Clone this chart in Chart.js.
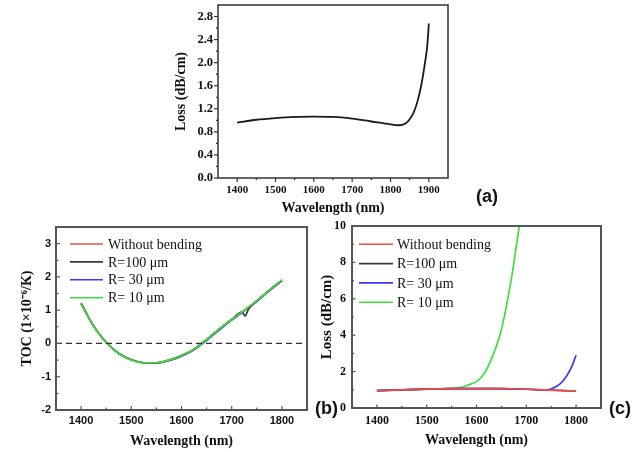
<!DOCTYPE html>
<html><head><meta charset="utf-8">
<script src="https://cdn.jsdelivr.net/npm/chart.js@4.4.0/dist/chart.umd.min.js"></script>
<style>
html,body{margin:0;padding:0;background:#fff;}
#wrap{position:relative;width:643px;height:452px;overflow:hidden;background:#fff;}
#wrap canvas{position:absolute;left:0;top:0;}
.pl{position:absolute;font:bold 18px 'Liberation Sans',Arial,sans-serif;line-height:18px;color:#111;white-space:nowrap;}
</style></head><body>
<div id="wrap">
<canvas id="ca" width="643" height="452"></canvas>
<canvas id="cb" width="643" height="452"></canvas>
<canvas id="cc" width="643" height="452"></canvas>
<div class="pl" style="left:476px;top:187px">(a)</div>
<div class="pl" style="left:315px;top:399px">(b)</div>
<div class="pl" style="left:609px;top:399px">(c)</div>
</div>
<script>
// ---------- data (a) ----------
const aWl   = [1400,1450,1500,1550,1600,1650,1700,1750,1800,1820,1840,1850,1860,1870,1880,1890,1896,1900];
const aLoss = [0.96,1.01,1.04,1.06,1.065,1.06,1.03,0.98,0.93,0.915,0.95,1.02,1.13,1.32,1.6,2.0,2.3,2.68];
const aXTicks = [1400,1500,1600,1700,1800,1900];
const aYTicks = [0.0,0.4,0.8,1.2,1.6,2.0,2.4,2.8];

// ---------- data (b) ----------
const bWl      = [1400,1425,1450,1475,1500,1525,1550,1575,1600,1625,1650,1675,1700,1720,1727,1733,1750,1775,1800];
const bNoBend  = [1.20,0.52,0.03,-0.30,-0.49,-0.58,-0.58,-0.50,-0.36,-0.17,0.12,0.43,0.72,0.94,1.02,1.09,1.28,1.60,1.90];
const bR100    = [1.20,0.52,0.03,-0.30,-0.49,-0.58,-0.58,-0.50,-0.36,-0.17,0.12,0.43,0.72,0.94,0.83,1.02,1.28,1.60,1.90];
const bR30     = [1.20,0.52,0.03,-0.30,-0.49,-0.58,-0.59,-0.52,-0.38,-0.19,0.09,0.40,0.70,0.92,1.00,1.07,1.26,1.58,1.89];
const bR10     = [1.19,0.51,0.02,-0.31,-0.50,-0.58,-0.58,-0.50,-0.36,-0.17,0.12,0.43,0.72,0.94,1.02,1.09,1.28,1.60,1.91];
const bXTicks = [1400,1500,1600,1700,1800];
const bYTicks = [-2,-1,0,1,2,3];

// ---------- data (c) ----------
const cWl     = [1400,1450,1500,1550,1600,1650,1700,1750,1800];
const cNoBend = [0.95,1.00,1.04,1.06,1.07,1.06,1.03,0.98,0.93];
const cR100   = [0.95,1.00,1.04,1.06,1.07,1.06,1.03,0.98,0.93];
const cR30Wl  = [1400,1450,1500,1550,1600,1650,1700,1740,1750,1760,1770,1780,1790,1800];
const cR30    = [0.95,1.00,1.04,1.06,1.07,1.06,1.03,1.00,1.05,1.18,1.38,1.72,2.2,2.9];
const cR10Wl  = [1400,1450,1500,1550,1560,1570,1580,1590,1600,1610,1620,1630,1640,1650,1660,1670,1680,1686];
const cR10    = [0.95,1.00,1.04,1.08,1.10,1.14,1.22,1.33,1.45,1.70,2.10,2.70,3.40,4.30,5.60,7.10,8.90,10.0];
const cXTicks = [1400,1500,1600,1700,1800];
const cYTicks = [0,2,4,6,8,10];

const seriesNames = ['Without bending','R=100 \u03bcm','R= 30 \u03bcm','R= 10 \u03bcm'];
const seriesColors = ['#f24c4c','#3a3a3a','#3b3bf5','#3ee03e'];

const SERIF = "'Liberation Serif','Times New Roman',serif";
const SANS = "'Liberation Sans',Arial,sans-serif";

function pts(xs, ys){ return xs.map((x,i)=>({x:x, y:ys[i]})); }

const decor = {
  id:'decor',
  afterDatasetsDraw(chart, args, o){
    const {ctx, chartArea:a, scales:{x, y}} = chart;
    ctx.save();
    if (o.zeroLine !== undefined){
      const py = y.getPixelForValue(o.zeroLine);
      ctx.strokeStyle = '#333'; ctx.lineWidth = 1.3; ctx.setLineDash([6,4]);
      ctx.beginPath(); ctx.moveTo(a.left, py); ctx.lineTo(a.right, py); ctx.stroke();
      ctx.setLineDash([]);
    }
    const d = o.inward ? -1 : 1;
    ctx.strokeStyle = o.frameColor; ctx.lineWidth = 1.2;
    const xt = (v, len) => { const px = x.getPixelForValue(v); ctx.beginPath(); ctx.moveTo(px, a.bottom); ctx.lineTo(px, a.bottom + d*len); ctx.stroke(); };
    const yt = (v, len) => { const py = y.getPixelForValue(v); ctx.beginPath(); ctx.moveTo(a.left, py); ctx.lineTo(a.left - d*len, py); ctx.stroke(); };
    o.xMajor.forEach(v => xt(v, o.majorLen));
    o.yMajor.forEach(v => yt(v, o.majorLen));
    const xs = o.xMajor[1]-o.xMajor[0], ys = o.yMajor[1]-o.yMajor[0];
    for (let v = o.xMajor[0]-xs/2; v <= x.max+1e-9; v += xs) if (v > x.min+1e-9 && v < x.max-1e-9) xt(v, o.minorLen);
    for (let v = o.yMajor[0]-ys/2; v <= y.max+1e-9; v += ys) if (v > y.min+1e-9 && v < y.max-1e-9) yt(v, o.minorLen);
    ctx.strokeStyle = o.frameColor; ctx.lineWidth = o.frameWidth;
    ctx.strokeRect(a.left, a.top, a.right-a.left, a.bottom-a.top);
    if (o.legend){
      const L = o.legend;
      ctx.font = '14px ' + SERIF; ctx.textBaseline = 'middle'; ctx.textAlign = 'left'; ctx.fillStyle = '#111';
      chart.data.datasets.forEach((ds, i) => {
        const yy = a.top + L.top + i*L.gap;
        ctx.strokeStyle = ds.borderColor; ctx.lineWidth = 1.6;
        ctx.beginPath(); ctx.moveTo(a.left + L.left, yy); ctx.lineTo(a.left + L.left + L.len, yy); ctx.stroke();
        ctx.fillText(ds.label, a.left + L.left + L.len + L.textGap, yy + 1);
      });
    }
    ctx.restore();
  }
};

function build(id, cfg){
  const lh = cfg.titleSize*1.2;
  const pl = cfg.yTitleX - lh/2;
  const pb = 452 - cfg.xTitleY - lh/2;
  new Chart(document.getElementById(id), {
    type:'line',
    data:{datasets: cfg.datasets},
    options:{
      responsive:false, animation:false, devicePixelRatio:1,
      layout:{padding:{left:pl, right:643-cfg.area.R, top:cfg.area.T, bottom:pb}},
      elements:{point:{radius:0}, line:{borderWidth:1.7, cubicInterpolationMode:'monotone'}},
      plugins:{legend:{display:false}, tooltip:{enabled:false}, decor:cfg.decor},
      scales:{
        x:{type:'linear', min:cfg.xMin, max:cfg.xMax,
           grid:{display:false, drawTicks:false}, border:{display:false},
           afterBuildTicks:s=>{ s.ticks = cfg.xTicks.map(v=>({value:v})); },
           afterFit:s=>{ s.height = 452 - pb - cfg.area.B; s.paddingLeft=0; s.paddingRight=0; },
           ticks:{autoSkip:false, maxRotation:0, padding:cfg.xPad, color:'#111', font:cfg.tickFont, callback:v=>String(v)},
           title:{display:true, text:'Wavelength (nm)', color:'#111', padding:0, font:{family:SERIF, size:cfg.titleSize, weight:'bold'}}},
        y:{type:'linear', min:cfg.yMin, max:cfg.yMax,
           grid:{display:false, drawTicks:false}, border:{display:false},
           afterBuildTicks:s=>{ s.ticks = cfg.yTicks.map(v=>({value:v})); },
           afterFit:s=>{ s.width = cfg.area.L - pl; s.paddingTop=0; s.paddingBottom=0; },
           ticks:{autoSkip:false, padding:cfg.yPad, color:'#111', font:cfg.yTickFont||cfg.tickFont, callback:cfg.yFmt},
           title:{display:true, text:cfg.yTitle, color:'#111', padding:0, font:{family:SERIF, size:cfg.yTitleSize||cfg.titleSize, weight:'bold'}}}
      }
    },
    plugins:[decor]
  });
}

function fourSeries(xsList, ysList, orders){
  return ysList.map((ys,i)=>({label:seriesNames[i], data:pts(xsList[i], ys), borderColor:seriesColors[i], backgroundColor:seriesColors[i], fill:false, order:orders[i]}));
}

build('ca', {
  area:{L:218, T:5, R:448, B:178}, titleSize:14, yTitleX:181, xTitleY:208,
  xMin:1350, xMax:1950, yMin:0, yMax:3.0, xTicks:aXTicks, yTicks:aYTicks,
  xPad:6, yPad:5, tickFont:{family:SERIF, size:11, weight:'bold'}, yTickFont:{family:SERIF, size:12.5, weight:'bold'},
  yFmt:v=>Number(v).toFixed(1), yTitle:'Loss (dB/cm)',
  datasets:[{label:'Loss', data:pts(aWl,aLoss), borderColor:'#1a1a1a', borderWidth:1.8, fill:false}],
  decor:{inward:false, xMajor:aXTicks, yMajor:aYTicks, majorLen:4, minorLen:2, frameColor:'#333', frameWidth:1.5}
});

build('cb', {
  area:{L:56, T:227, R:307, B:410}, titleSize:14, yTitleX:27, xTitleY:441,
  xMin:1350, xMax:1850, yMin:-2, yMax:3.5, xTicks:bXTicks, yTicks:bYTicks,
  xPad:4, yPad:5, tickFont:{family:SANS, size:11, weight:'bold'},
  yFmt:v=>String(v), yTitle:'TOC (1\u00d710\u207b\u2076/K)',
  datasets:fourSeries([bWl,bWl,bWl,bWl],[bNoBend,bR100,bR30,bR10],[2,1,3,0]),
  decor:{inward:true, zeroLine:0, xMajor:bXTicks, yMajor:bYTicks, majorLen:4, minorLen:2.5, frameColor:'#555', frameWidth:2,
         legend:{left:14, top:17, gap:17.9, len:33, textGap:5}}
});

build('cc', {
  area:{L:352, T:226, R:601, B:408}, titleSize:14, yTitleSize:15, yTitleX:327, xTitleY:440,
  xMin:1350, xMax:1850, yMin:0, yMax:10, xTicks:cXTicks, yTicks:cYTicks,
  xPad:6, yPad:6, tickFont:{family:SERIF, size:12, weight:'bold'},
  yFmt:v=>String(v), yTitle:'Loss (dB/cm)',
  datasets:fourSeries([cWl,cWl,cR30Wl,cR10Wl],[cNoBend,cR100,cR30,cR10],[0,1,2,3]),
  decor:{inward:true, xMajor:cXTicks, yMajor:cYTicks, majorLen:3.5, minorLen:2, frameColor:'#555', frameWidth:2,
         legend:{left:7, top:18.3, gap:19.3, len:34, textGap:4}}
});
</script>
</body></html>
